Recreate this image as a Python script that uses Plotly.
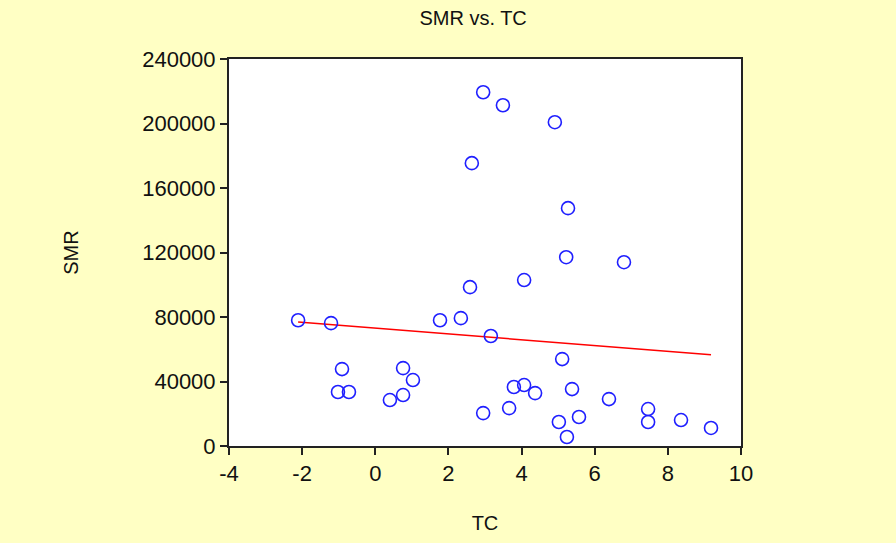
import numpy as np
import plotly.graph_objects as go

# Data
tc = [-2.11, -1.21, -0.91, -1.02, -0.72, 0.40, 0.76, 0.76, 1.03, 1.77,
      2.34, 2.59, 2.64, 2.95, 2.95, 3.16, 3.49, 3.66, 3.79, 4.07,
      4.07, 4.37, 4.91, 5.02, 5.11, 5.24, 5.22, 5.27, 5.38, 5.57,
      6.39, 6.80, 7.46, 7.46, 8.36, 9.18]
smr = [78000, 76200, 47700, 33500, 33500, 28500, 31600, 48300, 40900, 78000,
       79300, 98500, 175400, 219400, 20400, 68200, 211300, 23500, 36600, 37800,
       102900, 32800, 200800, 14900, 53900, 5600, 117100, 147500, 35300, 18000,
       29100, 114000, 22900, 14900, 16100, 11200]

x_ticks = [-4, -2, 0, 2, 4, 6, 8, 10]
x_tick_labels = ["-4", "-2", "0", "2", "4", "6", "8", "10"]
y_ticks = [0, 40000, 80000, 120000, 160000, 200000, 240000]
y_tick_labels = ["0", "40000", "80000", "120000", "160000", "200000", "240000"]

# Least-squares regression line
slope, intercept = np.polyfit(tc, smr, 1)
fit_x = np.array([min(tc), max(tc)])
fit_y = intercept + slope * fit_x

bg = "#FFFFC4"
font = "Liberation Sans, Arial, sans-serif"

fig = go.Figure()
fig.add_trace(go.Scatter(
    x=fit_x, y=fit_y, mode="lines",
    line=dict(color="#FF0000", width=1.5),
    showlegend=False, hoverinfo="skip"))
fig.add_trace(go.Scatter(
    x=tc, y=smr, mode="markers",
    marker=dict(symbol="circle-open", size=13, color="#1F1FFF",
                line=dict(width=1.6, color="#1F1FFF")),
    showlegend=False))

axis_common = dict(
    showgrid=False, zeroline=False,
    showline=True, linecolor="#222222", linewidth=2, mirror=True,
    ticks="outside", ticklen=7, tickwidth=1.5, tickcolor="#222222",
    tickfont=dict(family=font, size=22, color="#111111"),
)

fig.update_layout(
    width=896, height=543,
    paper_bgcolor=bg, plot_bgcolor="#FFFFFF",
    margin=dict(l=229, r=155, t=59, b=94),
    title=dict(text="SMR vs. TC", x=0.528, xanchor="center",
               y=0.967, yanchor="middle",
               font=dict(family=font, size=20, color="#111111")),
    xaxis=dict(range=[-4, 10], tickmode="array", tickvals=x_ticks,
               ticktext=x_tick_labels,
               title=dict(text="TC", standoff=31,
                          font=dict(family=font, size=20, color="#111111")),
               **axis_common),
    yaxis=dict(range=[0, 240000], tickmode="array", tickvals=y_ticks,
               ticktext=y_tick_labels,
               title=dict(text="SMR", standoff=58,
                          font=dict(family=font, size=20, color="#111111")),
               **axis_common),
)

fig.write_html(
    "out.html",
    config={"displayModeBar": False},
    post_script="document.body.style.margin='0';"
                "document.body.style.background='" + bg + "';",
)
